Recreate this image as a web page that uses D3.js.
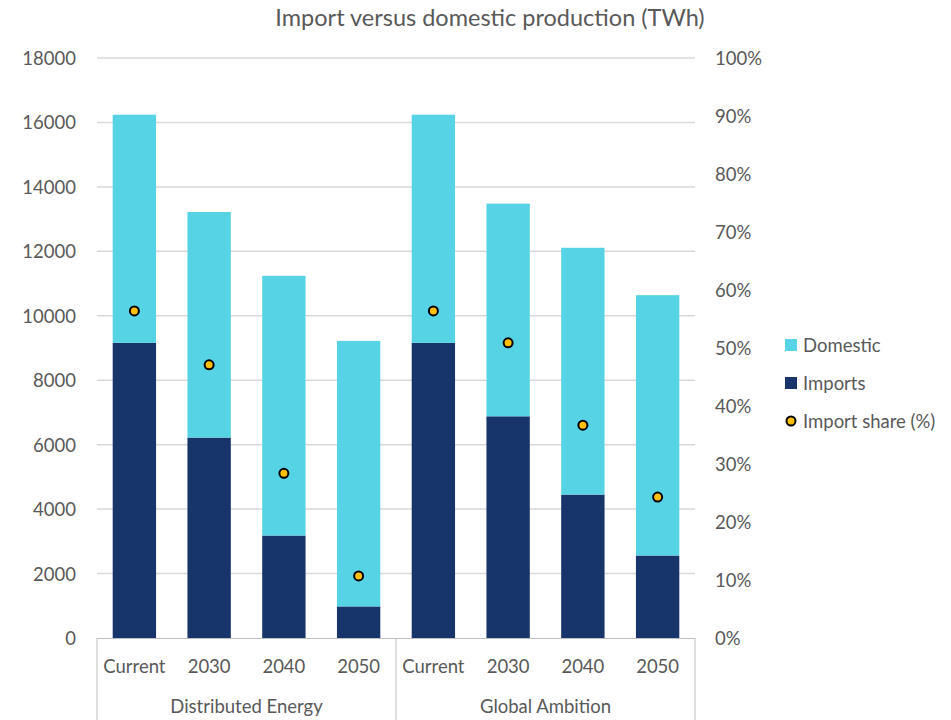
<!DOCTYPE html>
<html>
<head>
<meta charset="utf-8">
<script src="https://cdn.jsdelivr.net/npm/d3@7"></script>
<style>
  body { margin: 0; background: #fff; }
  text { font-family: Lato, "Open Sans", sans-serif; fill: #595959; }
</style>
</head>
<body>
<div id="chart"></div>
<script>
// Data
const scenarios = ["Distributed Energy", "Global Ambition"];
const years = ["Current", "2030", "2040", "2050"];
const imports = [9160, 6220, 3180, 980, 9160, 6880, 4450, 2560];
const domestic = [7080, 7000, 8060, 8240, 7080, 6600, 7660, 8080];
const importShare = [0.564, 0.471, 0.284, 0.107, 0.564, 0.509, 0.367, 0.243];
const leftTicks = d3.range(0, 18001, 2000);
const rightTicks = d3.range(0, 1.0001, 0.1);

const dimensions = {
  width: 951,
  height: 720,
  left: 97,
  right: 695,
  top: 58,
  bottom: 638
};

const rows = imports.map((d, i) => ({
  key: i,
  scenario: scenarios[Math.floor(i / years.length)],
  year: years[i % years.length],
  imports: d,
  domestic: domestic[i],
  share: importShare[i]
}));

const svg = d3.select("#chart")
  .append("svg")
  .attr("width", dimensions.width)
  .attr("height", dimensions.height);

const xScale = d3.scaleBand()
  .domain(rows.map(d => d.key))
  .range([dimensions.left, dimensions.right])
  .paddingInner(0.42)
  .paddingOuter(0.21);

const yScale = d3.scaleLinear()
  .domain([0, 18000])
  .range([dimensions.bottom, dimensions.top]);

const pScale = d3.scaleLinear()
  .domain([0, 1])
  .range([dimensions.bottom, dimensions.top]);

const fontSize = "18.5px";

// Title
svg.append("text")
  .attr("x", 490)
  .attr("y", 26)
  .attr("text-anchor", "middle")
  .style("font-size", "23.5px")
  .text("Import versus domestic production (TWh)");

// Gridlines
svg.append("g")
  .selectAll("line")
  .data(leftTicks.slice(1))
  .join("line")
  .attr("x1", dimensions.left)
  .attr("x2", dimensions.right)
  .attr("y1", d => yScale(d))
  .attr("y2", d => yScale(d))
  .attr("stroke", "#d9d9d9")
  .attr("stroke-width", 1.5);

// Left axis
const yAxis = d3.axisLeft(yScale).tickValues(leftTicks).tickSize(0).tickPadding(21)
  .tickFormat(d3.format("d"));
svg.append("g")
  .attr("transform", `translate(${dimensions.left}, 0)`)
  .call(yAxis)
  .call(g => g.select(".domain").remove())
  .call(g => g.selectAll("text").style("font-size", fontSize).attr("fill", "#595959").attr("dy", "0.35em"));

// Right axis
const pAxis = d3.axisRight(pScale).tickValues(rightTicks).tickSize(0).tickPadding(20)
  .tickFormat(d3.format(".0%"));
svg.append("g")
  .attr("transform", `translate(${dimensions.right}, 0)`)
  .call(pAxis)
  .call(g => g.select(".domain").remove())
  .call(g => g.selectAll("text").style("font-size", fontSize).attr("fill", "#595959").attr("dy", "0.35em"));

// Stacked bars
const stack = d3.stack().keys(["imports", "domestic"]);
const series = stack(rows);
const colors = { imports: "#17346b", domestic: "#56d3e4" };

svg.append("g")
  .selectAll("g")
  .data(series)
  .join("g")
  .attr("fill", d => colors[d.key])
  .selectAll("rect")
  .data(d => d)
  .join("rect")
  .attr("x", d => xScale(d.data.key))
  .attr("width", xScale.bandwidth())
  .attr("y", d => yScale(d[1]))
  .attr("height", d => yScale(d[0]) - yScale(d[1]));

// Import share dots
svg.append("g")
  .selectAll("circle")
  .data(rows)
  .join("circle")
  .attr("cx", d => xScale(d.key) + xScale.bandwidth() / 2)
  .attr("cy", d => pScale(d.share))
  .attr("r", 4.5)
  .attr("fill", "#ffc000")
  .attr("stroke", "#000")
  .attr("stroke-width", 2);

// Category axis (multi-level)
const axisG = svg.append("g");
const step = xScale.step();
const lineColor = "#bfbfbf";

axisG.append("line")
  .attr("x1", dimensions.left).attr("x2", dimensions.right)
  .attr("y1", dimensions.bottom + 0.5).attr("y2", dimensions.bottom + 0.5)
  .attr("stroke", lineColor);

const groupEdges = [0, 4, 8].map(i => dimensions.left + i * step);
axisG.selectAll(".edge")
  .data(groupEdges)
  .join("line")
  .attr("x1", d => d).attr("x2", d => d)
  .attr("y1", dimensions.bottom).attr("y2", dimensions.height)
  .attr("stroke", lineColor);

axisG.selectAll(".year")
  .data(rows)
  .join("text")
  .attr("x", d => xScale(d.key) + xScale.bandwidth() / 2)
  .attr("y", 673)
  .attr("text-anchor", "middle")
  .style("font-size", fontSize)
  .text(d => d.year);

axisG.selectAll(".scenario")
  .data(scenarios)
  .join("text")
  .attr("x", (d, i) => (groupEdges[i] + groupEdges[i + 1]) / 2)
  .attr("y", 713)
  .attr("text-anchor", "middle")
  .style("font-size", fontSize)
  .text(d => d);

// Legend
const legend = svg.append("g").attr("transform", "translate(785, 0)");
legend.append("rect").attr("x", 0).attr("y", 339).attr("width", 12).attr("height", 12).attr("fill", colors.domestic);
legend.append("text").attr("x", 18).attr("y", 352).style("font-size", fontSize).text("Domestic");
legend.append("rect").attr("x", 0).attr("y", 377).attr("width", 12).attr("height", 12).attr("fill", colors.imports);
legend.append("text").attr("x", 18).attr("y", 390).style("font-size", fontSize).text("Imports");
legend.append("circle").attr("cx", 6).attr("cy", 421).attr("r", 4.5).attr("fill", "#ffc000").attr("stroke", "#000").attr("stroke-width", 2);
legend.append("text").attr("x", 18).attr("y", 428).style("font-size", fontSize).text("Import share (%)");
</script>
</body>
</html>
